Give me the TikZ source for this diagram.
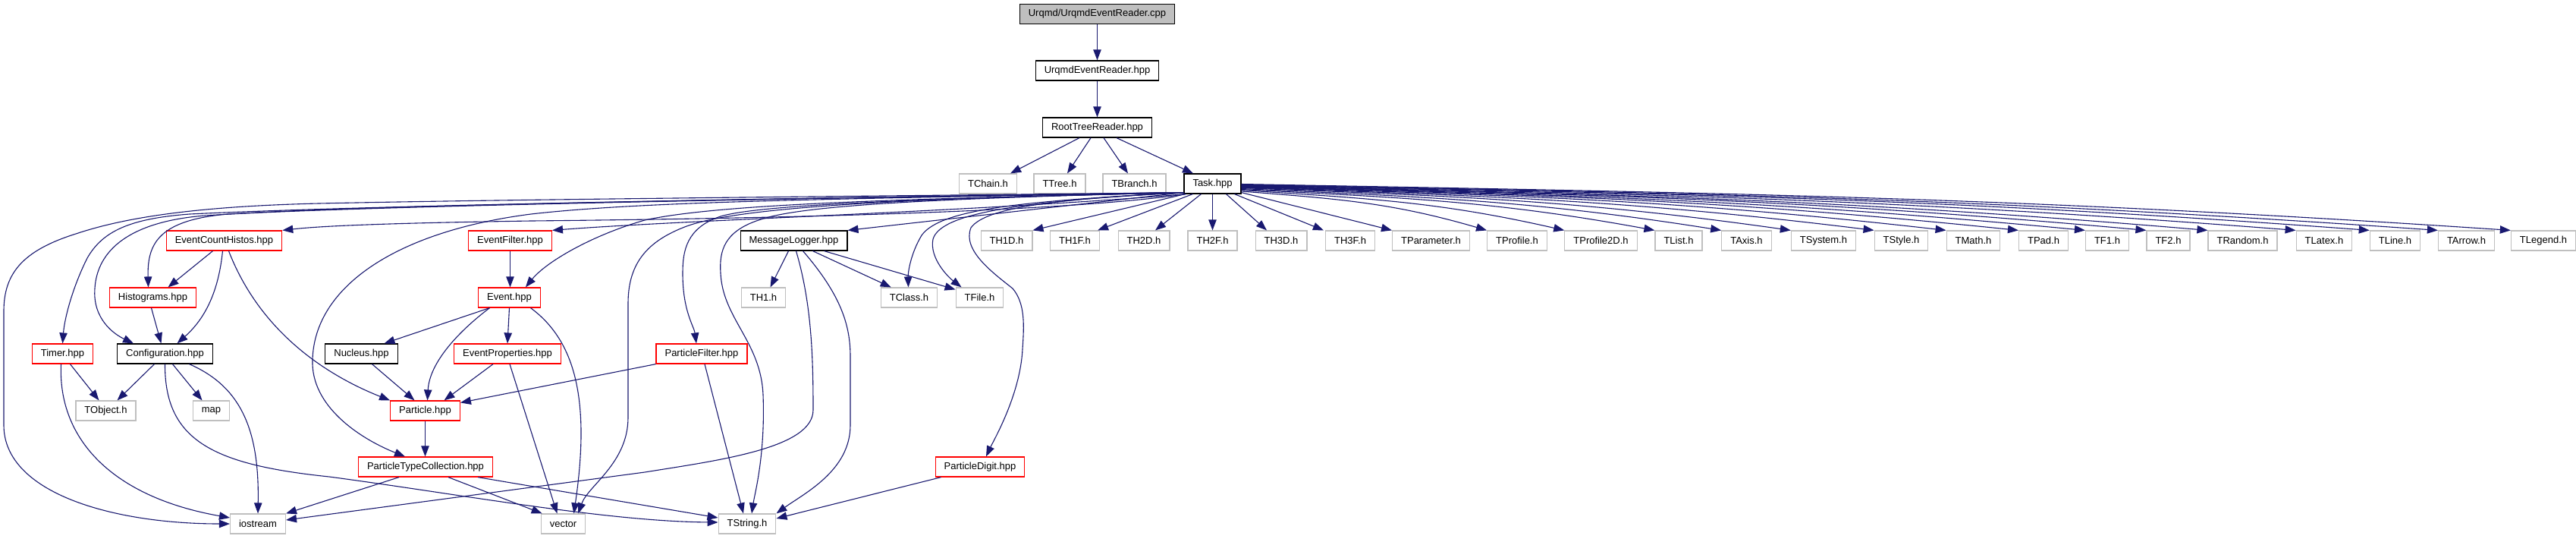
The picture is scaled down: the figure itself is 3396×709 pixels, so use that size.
\documentclass[tikz,border=0pt]{standalone}
\usepackage{fontspec}
\setmainfont{Liberation Sans}
\usetikzlibrary{arrows.meta,calc}
\definecolor{edgeblue}{HTML}{191970}
\definecolor{lgray}{HTML}{BFBFBF}
\tikzset{
  box/.style={rectangle, line width=0.6pt, minimum height=13pt, inner xsep=5.75pt, inner ysep=0pt, font=\fontsize{6.5pt}{7.8pt}\selectfont, text=black},
  bbox/.style={box, draw=black},
  rbox/.style={box, draw=red},
  gbox/.style={box, draw=lgray},
  rootbox/.style={box, draw=black, fill=lgray},
  dep/.style={color=edgeblue, line width=0.55pt, -{Triangle[length=7pt,width=5.2pt]}},
}
\begin{document}
\begin{tikzpicture}[x=0.5pt,y=-0.5pt]
\useasboundingbox (0,0) rectangle (3396,709);
\fill[white] (0,0) rectangle (3396,709);
% ---------- nodes ----------
\node[rootbox] (cpp) at (1446.5,18.5) {Urqmd/UrqmdEventReader.cpp};
\node[bbox] (uerh) at (1446.5,93) {UrqmdEventReader.hpp};
\node[bbox] (rtr) at (1446.5,168) {RootTreeReader.hpp};
\node[gbox] (tchain) at (1302.5,242) {TChain.h};
\node[gbox] (ttree) at (1397,242) {TTree.h};
\node[gbox] (tbranch) at (1495.5,242) {TBranch.h};
\node[bbox] (task) at (1598.5,242) {Task.hpp};
% row 4
\node[rbox] (ech) at (295.5,317) {EventCountHistos.hpp};
\node[rbox] (efilt) at (672.5,317) {EventFilter.hpp};
\node[bbox] (mlog) at (1046.5,317) {MessageLogger.hpp};
\node[gbox] (th1d) at (1327,317) {TH1D.h};
\node[gbox] (th1f) at (1417,317) {TH1F.h};
\node[gbox] (th2d) at (1508,317) {TH2D.h};
\node[gbox] (th2f) at (1598.5,317) {TH2F.h};
\node[gbox] (th3d) at (1689,317) {TH3D.h};
\node[gbox] (th3f) at (1780,317) {TH3F.h};
\node[gbox] (tparam) at (1886.5,317) {TParameter.h};
\node[gbox] (tprof) at (2000,317) {TProfile.h};
\node[gbox] (tprofb) at (2110.5,317) {TProfile2D.h};
\node[gbox] (tlist) at (2213,317) {TList.h};
\node[gbox] (taxis) at (2302.5,317) {TAxis.h};
\node[gbox] (tsystem) at (2404,317) {TSystem.h};
\node[gbox] (tstyle) at (2506.5,317) {TStyle.h};
\node[gbox] (tmath) at (2601.5,317) {TMath.h};
\node[gbox] (tpad) at (2694,317) {TPad.h};
\node[gbox] (tfone) at (2778,317) {TF1.h};
\node[gbox] (tftwo) at (2858.5,317) {TF2.h};
\node[gbox] (trandom) at (2956.5,317) {TRandom.h};
\node[gbox] (tlatex) at (3064,317) {TLatex.h};
\node[gbox] (tline) at (3157.5,317) {TLine.h};
\node[gbox] (tarrow) at (3251.5,317) {TArrow.h};
\node[gbox] (tlegend) at (3353,317) {TLegend.h};
% row 5
\node[rbox] (hist) at (201.5,392) {Histograms.hpp};
\node[rbox] (event) at (671.5,392) {Event.hpp};
\node[gbox] (thone) at (1006.5,392) {TH1.h};
\node[gbox] (tclass) at (1198.5,392) {TClass.h};
\node[gbox] (tfile) at (1291.5,392) {TFile.h};
% row 6
\node[rbox] (timer) at (82.5,466) {Timer.hpp};
\node[bbox] (config) at (217.5,466) {Configuration.hpp};
\node[bbox] (nucleus) at (476.5,466) {Nucleus.hpp};
\node[rbox] (evprop) at (669,466) {EventProperties.hpp};
\node[rbox] (pfilter) at (925,466) {ParticleFilter.hpp};
% row 7
\node[gbox] (tobject) at (139.5,541) {TObject.h};
\node[gbox] (map) at (278.5,541) {map};
\node[rbox] (particle) at (560.5,541) {Particle.hpp};
% row 8
\node[rbox] (ptc) at (561,615) {ParticleTypeCollection.hpp};
\node[rbox] (pdigit) at (1292,615) {ParticleDigit.hpp};
% row 9
\node[gbox] (iostream) at (340,690) {iostream};
\node[gbox] (vector) at (742.5,690) {vector};
\node[gbox] (tstring) at (985,690) {TString.h};

% ---------- edges ----------
\draw[dep] (cpp) -- (uerh);
\draw[dep] (uerh) -- (rtr);
\draw[dep] ($(rtr.south)+(-23.5,0)$) -- ($(tchain.north)+(29.5,0)$);
\draw[dep] ($(rtr.south)+(-8.5,0)$) -- ($(ttree.north)+(10,0)$);
\draw[dep] ($(rtr.south)+(8.5,0)$) -- ($(tbranch.north)+(-8.5,0)$);
\draw[dep] ($(rtr.south)+(25.5,0)$) -- ($(task.north)+(-25.5,0)$);

% Task -> left side
\draw[dep] ($(task.south west)+(0,-2)$) .. controls (1200,258) and (700,262) .. (420,268) .. controls (250,272) and (160,288) .. (100,308) .. controls (30,330) and (5,360) .. (5,410) -- (5,560) .. controls (5,650) and (150,690) .. (iostream.west);
\draw[dep] ($(task.south west)+(0,-2)$) .. controls (1100,260) and (500,270) .. (250,282) .. controls (170,288) and (135,305) .. (115,340) .. controls (95,380) and (85,420) .. (timer.north);
\draw[dep] ($(task.south west)+(0,-2)$) .. controls (1000,262) and (450,272) .. (270,284) .. controls (170,292) and (128,330) .. (125,380) .. controls (122,420) and (150,440) .. ($(config.north west)+(22,0)$);
\draw[dep] ($(task.south west)+(0,-2)$) .. controls (1000,262) and (500,270) .. (300,282) .. controls (210,290) and (194,320) .. ($(hist.north)+(-6,0)$);
\draw[dep] ($(task.south west)+(3,0)$) .. controls (1400,280) and (1000,288) .. (700,291) .. controls (500,294) and (420,298) .. (ech.north east);
\draw[dep] ($(task.south west)+(0,-2)$) .. controls (1100,262) and (850,265) .. (700,282) .. controls (520,305) and (410,380) .. (412,480) .. controls (414,540) and (480,580) .. ($(ptc.north)+(-27,0)$);
\draw[dep] ($(task.south west)+(3,0)$) .. controls (1300,278) and (900,290) .. (efilt.north east);
\draw[dep] ($(task.south west)+(0,-2)$) .. controls (1200,262) and (950,268) .. (850,290) .. controls (780,310) and (720,345) .. ($(event.north east)+(-20,0)$);
\draw[dep] ($(task.south west)+(0,-2)$) .. controls (1150,262) and (960,275) .. (900,300) .. controls (850,320) and (828,350) .. (828,400) -- (828,550) .. controls (828,610) and (775,640) .. ($(vector.north east)+(-10,0)$);
\draw[dep] ($(task.south west)+(0,-2)$) -- (mlog.north east);
\draw[dep] ($(task.south west)+(0,-2)$) .. controls (1200,262) and (1000,270) .. (950,285) .. controls (905,300) and (900,330) .. (900,360) .. controls (900,410) and (915,430) .. ($(pfilter.north)+(-7,0)$);
\draw[dep] ($(task.south west)+(0,-2)$) .. controls (1200,262) and (1050,272) .. (1000,290) .. controls (955,305) and (948,330) .. (950,360) .. controls (953,420) and (1003,450) .. (1006,520) .. controls (1009,600) and (995,650) .. ($(tstring.north)+(6,0)$);
\draw[dep] ($(task.south west)+(0,-2)$) .. controls (1350,265) and (1240,275) .. (1215,310) .. controls (1200,335) and (1197,360) .. ($(tclass.north)+(-1,0)$);
\draw[dep] ($(task.south west)+(0,-2)$) .. controls (1350,265) and (1240,280) .. (1230,315) .. controls (1225,340) and (1250,365) .. ($(tfile.north west)+(8,0)$);
\draw[dep] ($(task.south west)+(0,-2)$) .. controls (1400,262) and (1300,272) .. (1280,300) .. controls (1268,330) and (1310,360) .. (1335,380) .. controls (1352,400) and (1350,430) .. (1348,460) .. controls (1345,520) and (1310,580) .. ($(pdigit.north)+(8,0)$);
\draw[dep] ($(task.south west)+(2,0)$) -- (th1d.north east);
\draw[dep] ($(task.south west)+(12,0)$) -- ($(th1f.north east)+(-3,0)$);
\draw[dep] ($(task.south)+(-15,0)$) -- ($(th2d.north)+(15,0)$);
\draw[dep] (task.south) -- (th2f.north);
\draw[dep] ($(task.south)+(18,0)$) -- ($(th3d.north)+(-19,0)$);
\draw[dep] ($(task.south)+(29,0)$) -- ($(th3f.north west)+(-2,0)$);
\draw[dep] ($(task.south east)+(0,-2)$) -- (tparam.north west);
% Task -> right side
\draw[dep] ($(task.east)+(0,10)$) .. controls +(127,10) and +(-127,-37) .. (tprof.north west);
\draw[dep] ($(task.east)+(0,8.5)$) .. controls +(167,11) and +(-167,-38) .. (tprofb.north west);
\draw[dep] ($(task.east)+(0,7.5)$) .. controls +(213,11) and +(-213,-39) .. (tlist.north west);
\draw[dep] ($(task.east)+(0,6.5)$) .. controls +(247,11) and +(-247,-39) .. (taxis.north west);
\draw[dep] ($(task.east)+(0,5.5)$) .. controls +(283,11) and +(-283,-40) .. (tsystem.north west);
\draw[dep] ($(task.east)+(0,5)$) .. controls +(326,11) and +(-326,-40) .. (tstyle.north west);
\draw[dep] ($(task.east)+(0,4.5)$) .. controls +(363,11) and +(-363,-41) .. (tmath.north west);
\draw[dep] ($(task.east)+(0,4)$) .. controls +(400,11) and +(-400,-41) .. (tpad.north west);
\draw[dep] ($(task.east)+(0,3.5)$) .. controls +(434,11.5) and +(-434,-41) .. (tfone.north west);
\draw[dep] ($(task.east)+(0,3)$) .. controls +(466,11.5) and +(-466,-42) .. (tftwo.north west);
\draw[dep] ($(task.east)+(0,2.5)$) .. controls +(497,12) and +(-497,-42) .. (trandom.north west);
\draw[dep] ($(task.east)+(0,2)$) .. controls +(542,12) and +(-542,-42) .. (tlatex.north west);
\draw[dep] ($(task.east)+(0,1.5)$) .. controls +(581,12) and +(-581,-43) .. (tline.north west);
\draw[dep] ($(task.east)+(0,1)$) .. controls +(616,12) and +(-616,-43) .. (tarrow.north west);
\draw[dep] ($(task.east)+(0,0.5)$) .. controls +(653,12) and +(-653,-43.5) .. (tlegend.north west);

% other edges
\draw[dep] ($(timer.south)+(10,0)$) -- ($(tobject.north)+(-9,0)$);
\draw[dep] ($(timer.south)+(-2,0)$) .. controls (76,580) and (150,655) .. ($(iostream.west)+(0,-8)$);
\draw[dep] ($(config.south)+(-14,0)$) -- ($(tobject.north)+(15,0)$);
\draw[dep] ($(config.south)+(10,0)$) -- ($(map.north)+(-12,0)$);
\draw[dep] ($(config.south)+(32,0)$) .. controls (320,510) and (342,570) .. (iostream.north);
\draw[dep] (config.south) .. controls (217,580) and (280,612) .. (434,628) .. controls (600,650) and (800,687) .. ($(tstring.west)+(0,-2)$);
\draw[dep] ($(ech.south)+(-15,0)$) -- ($(hist.north)+(20,0)$);
\draw[dep] ($(ech.south)+(-2,0)$) .. controls (288,385) and (270,420) .. ($(config.north)+(16,0)$);
\draw[dep] ($(ech.south)+(6,0)$) .. controls (340,430) and (420,490) .. (particle.north west);
\draw[dep] ($(hist.south)+(-2,0)$) -- ($(config.north)+(-5,0)$);
\draw[dep] (efilt.south) -- (efilt.south |- event.north);
\draw[dep] ($(event.south)+(-26,0)$) -- ($(nucleus.north)+(30,0)$);
\draw[dep] ($(event.south)+(-26,0)$) .. controls (600,440) and (566,480) .. ($(particle.north)+(3,0)$);
\draw[dep] (event.south) -- (evprop.north);
\draw[dep] ($(event.south)+(28,0)$) .. controls (760,450) and (778,530) .. ($(vector.north)+(14,0)$);
\draw[dep] ($(nucleus.south)+(14,0)$) -- ($(particle.north)+(-14,0)$);
\draw[dep] ($(evprop.south)+(-19,0)$) -- ($(particle.north)+(25,0)$);
\draw[dep] ($(evprop.south)+(3,0)$) -- ($(vector.north)+(-8,0)$);
\draw[dep] (particle.south) -- (particle.south |- ptc.north);
\draw[dep] ($(ptc.south)+(-35,0)$) -- (iostream.north east);
\draw[dep] ($(ptc.south)+(30,0)$) -- ($(vector.north west)+(2,0)$);
\draw[dep] ($(ptc.south east)+(-20,0)$) -- ($(tstring.west)+(0,-8)$);
\draw[dep] (pfilter.south west) -- ($(particle.north east)+(0,3)$);
\draw[dep] ($(pfilter.south)+(4,0)$) -- ($(tstring.north)+(-5,0)$);
\draw[dep] ($(mlog.south)+(-7,0)$) -- ($(thone.north)+(9,0)$);
\draw[dep] ($(mlog.south)+(3,0)$) .. controls (1070,400) and (1072,470) .. (1072,540) .. controls (1072,590) and (950,606) .. (850,622) -- ($(iostream.east)+(0,-5)$);
\draw[dep] ($(mlog.south)+(12,0)$) .. controls (1110,390) and (1121,430) .. (1121,470) -- (1121,560) .. controls (1121,620) and (1060,650) .. (tstring.north east);
\draw[dep] ($(mlog.south)+(25,0)$) -- ($(tclass.north west)+(14,0)$);
\draw[dep] ($(mlog.south)+(40,0)$) -- ($(tfile.north west)+(0,3)$);
\draw[dep] ($(pdigit.south west)+(8,0)$) -- ($(tstring.east)+(0,-7)$);
\end{tikzpicture}
\end{document}
